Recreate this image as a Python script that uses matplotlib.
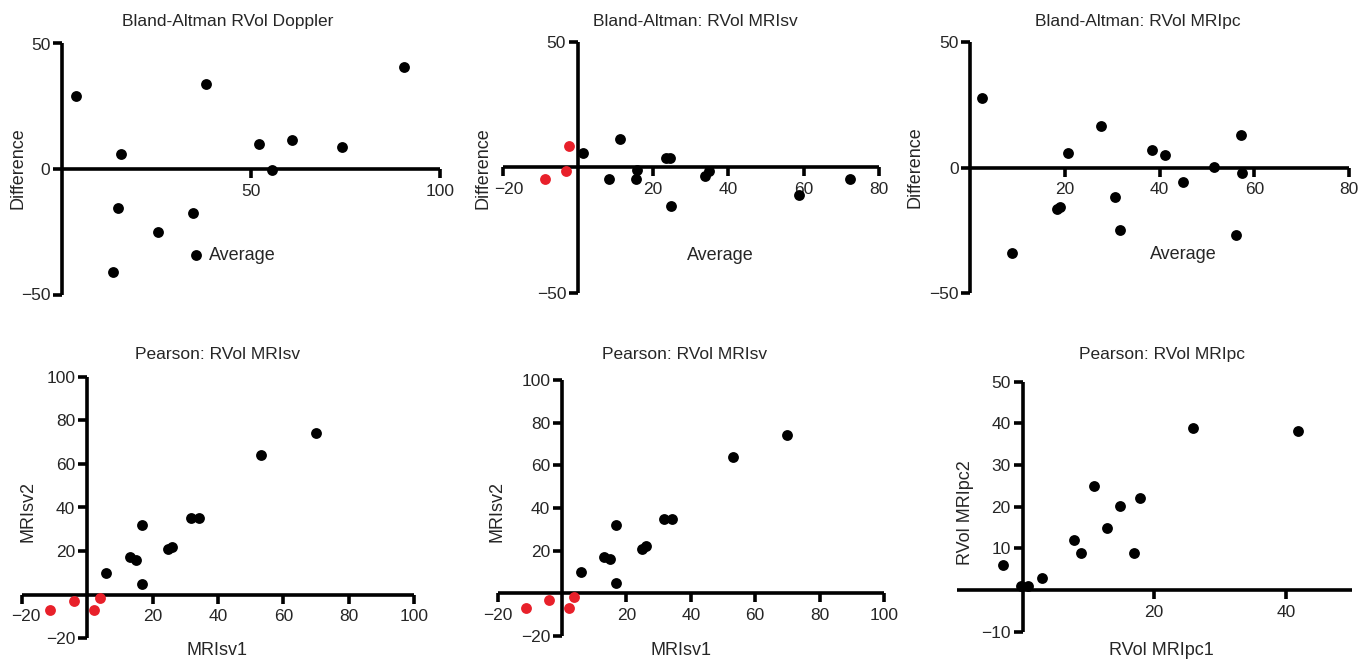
import matplotlib
matplotlib.use("Agg")
import matplotlib.pyplot as plt
from matplotlib.transforms import ScaledTranslation

# ---------------- data ----------------
# Panel 1: Bland-Altman RVol Doppler
ba_doppler_avg = [3.7, 38.0, 90.6, 15.6, 52.0, 60.9, 74.2, 55.6, 14.9, 34.7, 25.4, 35.4, 13.4]
ba_doppler_diff = [28.9, 33.9, 40.6, 6.0, 10.0, 11.4, 8.6, -0.2, -15.5, -17.6, -25.0, -34.2, -41.0]

# Panel 2: Bland-Altman RVol MRIsv
ba_sv_avg_red = [-2.3, -3.3, -8.7]
ba_sv_diff_red = [8.6, -1.4, -4.4]
ba_sv_avg = [1.4, 11.3, 8.3, 15.3, 15.8, 23.3, 24.4, 24.7, 33.8, 34.8, 58.8, 72.2]
ba_sv_diff = [5.7, 11.5, -4.4, -4.4, -1.0, 3.6, 3.6, -15.2, -3.4, -1.4, -11.0, -4.4]

# Panel 3: Bland-Altman RVol MRIpc
ba_pc_avg = [2.4, 8.7, 27.5, 20.7, 18.3, 19.0, 30.6, 31.7, 38.3, 41.2, 44.9, 51.4, 57.2, 57.4, 56.1]
ba_pc_diff = [27.9, -34.1, 16.5, 5.9, -16.3, -15.7, -11.8, -24.8, 7.2, 5.1, -5.7, 0.4, 13.1, -2.2, -26.8]

# Panels 4 & 5: Pearson RVol MRIsv
sv1_red = [-11.2, -4.1, 2.0, 3.8]
sv2_red = [-6.9, -3.1, -6.9, -1.7]
sv1 = [5.8, 16.8, 16.8, 13.0, 14.9, 24.8, 26.0, 31.7, 34.2, 53.0, 69.9]
sv2 = [10.0, 5.0, 32.0, 17.1, 16.1, 21.0, 22.0, 35.0, 35.0, 63.9, 74.0]

# Panel 6: Pearson RVol MRIpc
pc1 = [-3.0, -0.2, 0.9, 2.9, 7.8, 8.9, 10.9, 12.9, 14.8, 16.9, 17.9, 25.9, 41.9]
pc2 = [6.0, 1.0, 1.0, 3.0, 12.0, 9.0, 25.0, 15.0, 20.1, 9.0, 22.1, 39.0, 38.1]

titles = ["Bland-Altman RVol Doppler", "Bland-Altman: RVol MRIsv", "Bland-Altman: RVol MRIpc",
          "Pearson: RVol MRIsv", "Pearson: RVol MRIsv", "Pearson: RVol MRIpc"]
xlabels = ["Average", "Average", "Average", "MRIsv1", "MRIsv1", "RVol MRIpc1"]
ylabels = ["Difference", "Difference", "Difference", "MRIsv2", "MRIsv2", "RVol MRIpc2"]

# ---------------- layout ----------------
W, H = 1370, 660
plt.rcParams['font.family'] = ['Liberation Sans', 'DejaVu Sans']
TXT = '#262626'
fig = plt.figure(figsize=(W / 100, H / 100), dpi=100)

# (xmin, xmax, px_left, px_right, ymin, ymax, px_bottom, px_top)
panels = [
    (0, 100, 62.0, 440.0, -50, 50, 294.5, 43.5),
    (-20, 80, 502.7, 879.0, -50, 50, 293.3, 41.7),
    (0, 80, 970.5, 1349.0, -50, 50, 293.3, 42.3),
    (-20, 100, 21.7, 414.3, -20, 100, 638.3, 376.7),
    (-20, 100, 497.7, 884.0, -20, 100, 636.0, 380.0),
    (-10, 50, 956.7, 1351.7, -10, 50, 631.7, 381.7),
]
xticks = [[50, 100], [-20, 20, 40, 60, 80], [20, 40, 60, 80],
          [-20, 20, 40, 60, 80, 100], [-20, 20, 40, 60, 80, 100], [20, 40]]
yticks = [[-50, 0, 50], [-50, 50], [-50, 0, 50],
          [-20, 20, 40, 60, 80, 100], [-20, 20, 40, 60, 80, 100], [-10, 10, 20, 30, 40, 50]]
# horizontal shift (pixels) of the first x tick label, as in the reference
first_xlabel_shift = [0, 6, 0, 4, 0, 0]
title_pos = [(228, 26), (695, 26), (1138, 26), (218, 359), (685, 359), (1162, 359)]
xlabel_pos = [(242, 260), (720, 260), (1183, 259), (217, 655), (681, 655), (1161, 655)]
ylabel_pos = [(18, 168), (483, 168), (915, 167), (28, 512), (497, 512), (965, 513)]

series = [
    [(ba_doppler_avg, ba_doppler_diff, 'black')],
    [(ba_sv_avg_red, ba_sv_diff_red, '#e8202a'), (ba_sv_avg, ba_sv_diff, 'black')],
    [(ba_pc_avg, ba_pc_diff, 'black')],
    [(sv1_red, sv2_red, '#e8202a'), (sv1, sv2, 'black')],
    [(sv1_red, sv2_red, '#e8202a'), (sv1, sv2, 'black')],
    [(pc1, pc2, 'black')],
]

LW = 2.6
for i, (x0, x1, pl, pr, y0, y1, pb, pt) in enumerate(panels):
    ax = fig.add_axes([pl / W, 1 - pb / H, (pr - pl) / W, (pb - pt) / H])
    ax.set_xlim(x0, x1)
    ax.set_ylim(y0, y1)
    ax.patch.set_visible(False)
    for s in ['top', 'right']:
        ax.spines[s].set_visible(False)
    ax.spines['left'].set_position(('data', 0))
    ax.spines['bottom'].set_position(('data', 0))
    for s in ['left', 'bottom']:
        ax.spines[s].set_linewidth(LW)
        ax.spines[s].set_color('black')
        ax.spines[s].set_capstyle('butt')
    ax.set_xticks(xticks[i])
    ax.set_yticks(yticks[i])
    ax.tick_params(axis='both', direction='out', length=6.5, width=LW, color='black',
                   labelsize=12.5, labelcolor=TXT)
    ax.tick_params(axis='x', pad=4)
    ax.tick_params(axis='y', pad=2)
    if first_xlabel_shift[i]:
        lab = ax.xaxis.get_major_ticks()[0].label1
        lab.set_transform(lab.get_transform() +
                          ScaledTranslation(first_xlabel_shift[i] / 100, 0, fig.dpi_scale_trans))
    for k, (xs, ys, c) in enumerate(series[i]):
        ax.plot(xs, ys, linestyle='none', marker='o', markersize=7.8, color=c,
                markeredgewidth=0, clip_on=False, zorder=3 + k)

    tx, ty = title_pos[i]
    fig.text(tx / W, 1 - ty / H, titles[i], ha='center', va='baseline', fontsize=12.5, color=TXT)
    lx, ly = xlabel_pos[i]
    fig.text(lx / W, 1 - ly / H, xlabels[i], ha='center', va='baseline', fontsize=13, color=TXT)
    yx, yy = ylabel_pos[i]
    fig.text(yx / W, 1 - yy / H, ylabels[i], ha='center', va='center', rotation=90,
             fontsize=13, color=TXT)

fig.savefig('out.png', dpi=100)
